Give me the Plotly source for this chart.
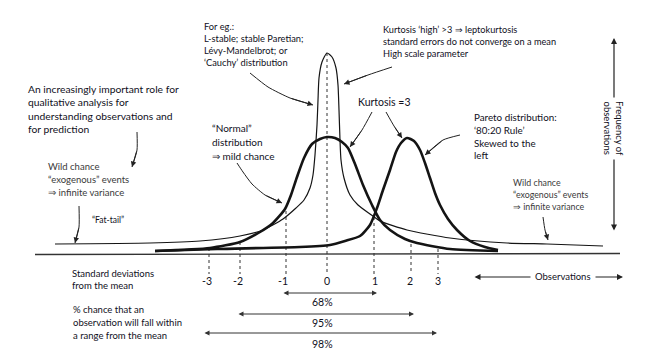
import plotly.graph_objects as go

# ---------------- data (diagram coordinates: x to the right, y downward) ----------------
# Leptokurtic ("Cauchy"-like) curve, thin line
lepto_x = [55, 150, 200, 240, 263, 283, 296, 304, 310, 313, 315, 317, 318, 319, 322, 327, 332, 336, 338, 339, 340,
           341, 344, 350, 358, 370, 380, 407, 450, 507, 547, 603]
lepto_y = [244, 243, 241, 236, 230, 219, 208, 200, 188, 175, 155, 125, 100, 78, 62, 53, 57, 68, 85, 110, 140,
           160, 178, 195, 205, 214, 221, 230, 238, 243, 244, 246]
# "Normal" curve, thick line
normal_x = [155, 210, 240, 260, 273, 285, 291, 297, 304, 312, 320, 327, 335, 342, 348, 355, 363, 372, 380, 390, 405,
            417, 450, 498]
normal_y = [251, 248, 242, 232, 223, 209, 195, 177, 158, 144, 139, 137, 138, 142, 148, 164, 185, 205, 220, 230, 239,
            243, 249, 251]
# Pareto (skewed) curve, thick line
pareto_x = [155, 217, 300, 330, 345, 360, 370, 377, 383, 390, 396, 401, 407, 414, 420, 425, 430, 435, 440, 448, 457,
            470, 485, 498]
pareto_y = [251, 249, 247, 245, 241, 236, 225, 208, 190, 170, 152, 143, 138, 141, 150, 163, 178, 193, 205, 219, 230,
            241, 247, 250]

# axis of standard deviations
sd_labels = ["-3", "-2", "-1", "0", "1", "2", "3"]
sd_x = [209, 240, 286, 327, 374, 411, 438]
sd_top = [248, 242, 211, 53, 217, 244, 249]
sd_label_x = [207, 238, 283, 327, 375, 410, 438]

# percentage ranges
pct_labels = ["68%", "95%", "98%"]
pct_left = [282, 237, 203]
pct_right = [377, 414, 437]
pct_arrow_y = [293, 314, 333]
pct_label_y = [302, 323, 344]

# baseline
base_x = [35, 620]
base_y = [254.5, 253.5]

# curved pointer paths (tail ... head)
ptr_cauchy = ([250, 268, 290, 313], [73, 87, 98, 105])
ptr_lepto = ([392, 368, 344], [67, 75, 84])
ptr_k3a = ([372, 362, 350], [112, 130, 147])
ptr_k3b = ([386, 394, 402], [112, 126, 138])
ptr_pareto = ([460, 443, 425], [135, 140, 155])
ptr_normal = ([237, 243, 252, 265, 282], [163, 172, 184, 195, 203])
ptr_role = ([137, 137, 132], [132, 150, 167])
ptr_wild_l = ([79, 79, 75], [206, 227, 243])
ptr_wild_r = ([543, 545, 548], [217, 230, 240])

# text blocks
txt_cauchy = ["For eg.:", "L-stable; stable Paretian;", "Lévy-Mandelbrot; or", "‘Cauchy’ distribution"]
txt_lepto = ["Kurtosis ‘high’ >3 ⇒ leptokurtosis", "standard errors do not converge on a mean",
             "High scale parameter"]
txt_pareto = ["Pareto distribution:", "‘80:20 Rule’", "Skewed to the", "left"]
txt_normal = ["“Normal”", "distribution", "⇒ mild chance"]
txt_role = ["An increasingly important role for", "qualitative analysis for", "understanding observations and",
            "for prediction"]
txt_wild = ["Wild chance", "“exogenous” events", "⇒ infinite variance"]
txt_sd = ["Standard deviations", "from the mean"]
txt_pct = ["% chance that an", "observation will fall within", "a range from the mean"]

INK = "#141414"
TXT = "#10101c"
GREY = "#3a3a3a"
FONT = "Lato"

fig = go.Figure()


def line(xs, ys, w, dash=None, color=INK, shape="spline"):
    fig.add_trace(go.Scatter(x=xs, y=ys, mode="lines", hoverinfo="skip", showlegend=False,
                             line=dict(color=color, width=w, shape=shape, smoothing=0.6,
                                       dash=dash if dash else "solid")))


# baseline
line(base_x, base_y, 1.4, color="#333333", shape="linear")
# dotted verticals
for x, t in zip(sd_x, sd_top):
    line([x, x], [t, 274], 1, dash="dot", color="#333333", shape="linear")
# curves
line(lepto_x, lepto_y, 1.2)
line(normal_x, normal_y, 2.6)
line(pareto_x, pareto_y, 2.6)


def pointer(path):
    xs, ys = path
    line(xs, ys, 1, color="#222222")
    fig.add_annotation(x=xs[-1], y=ys[-1], ax=xs[-2], ay=ys[-2], axref="x", ayref="y", xref="x", yref="y",
                       text="", showarrow=True, arrowhead=2, arrowsize=1.1, arrowwidth=1, arrowcolor="#222222",
                       standoff=0)


for p in [ptr_cauchy, ptr_lepto, ptr_k3a, ptr_k3b, ptr_pareto, ptr_normal, ptr_role, ptr_wild_l, ptr_wild_r]:
    pointer(p)


def block(lines, x, y0, dy, size, color=TXT):
    for i, s in enumerate(lines):
        fig.add_annotation(x=x, y=y0 + i * dy, text=s, showarrow=False, xanchor="left", yanchor="middle",
                           font=dict(family=FONT, size=size, color=color), borderpad=0)


block(txt_cauchy, 203, 26, 12.2, 9.3)
block(txt_lepto, 382, 29, 12, 9.2)
block(["Kurtosis =3"], 357, 102, 12, 10.5)
block(txt_pareto, 473, 117, 12.8, 9.8)
block(txt_normal, 211, 128, 14, 10)
block(txt_role, 27, 89, 13.4, 10.3)
block(txt_wild, 47, 166, 13.3, 9.5, GREY)
block(["“Fat-tail”"], 91, 220, 12, 8.5)
block(txt_wild, 512, 182, 12, 8.8, GREY)
block(txt_sd, 71, 273, 12, 9.5)
block(txt_pct, 72, 309, 13, 9.5)

# tick labels
for s, x in zip(sd_labels, sd_label_x):
    fig.add_annotation(x=x, y=281, text=s, showarrow=False, xanchor="center", yanchor="middle",
                       font=dict(family=FONT, size=10.5, color=TXT))

# percentage arrows and labels
for s, l, r, ay, ly in zip(pct_labels, pct_left, pct_right, pct_arrow_y, pct_label_y):
    fig.add_annotation(x=r, y=ay, ax=l, ay=ay, axref="x", ayref="y", xref="x", yref="y", text="",
                       showarrow=True, arrowhead=2, arrowside="end+start", arrowsize=1, arrowwidth=1,
                       arrowcolor="#333333", standoff=0, startstandoff=0)
    fig.add_annotation(x=322, y=ly, text=s, showarrow=False, xanchor="center", yanchor="middle",
                       font=dict(family=FONT, size=10.5, color=TXT))

# frequency axis
fig.add_annotation(x=614, y=38, ax=614, ay=232, axref="x", ayref="y", xref="x", yref="y", text="",
                   showarrow=True, arrowhead=2, arrowside="end+start", arrowsize=1, arrowwidth=1.2,
                   arrowcolor="#222222", standoff=0, startstandoff=0)
fig.add_annotation(x=614, y=128, text="Frequency of<br>observations", showarrow=False, textangle=90,
                   bgcolor="white", xanchor="center", yanchor="middle", borderpad=3,
                   font=dict(family=FONT, size=9.5, color=TXT))

# observations axis
fig.add_annotation(x=623, y=277, ax=473, ay=277, axref="x", ayref="y", xref="x", yref="y", text="",
                   showarrow=True, arrowhead=2, arrowside="end+start", arrowsize=1, arrowwidth=1.2,
                   arrowcolor="#222222", standoff=0, startstandoff=0)
fig.add_annotation(x=563, y=276, text="Observations", showarrow=False, bgcolor="white",
                   xanchor="center", yanchor="middle", borderpad=4,
                   font=dict(family=FONT, size=9.5, color=TXT))

fig.update_layout(width=652, height=359, margin=dict(l=0, r=0, t=0, b=0), autosize=False,
                  paper_bgcolor="white", plot_bgcolor="white",
                  xaxis=dict(range=[0, 652], visible=False, fixedrange=True),
                  yaxis=dict(range=[359, 0], visible=False, fixedrange=True))

fig.write_html("out.html", config={"displayModeBar": False},
               post_script="document.body.style.margin='0';document.body.style.padding='0';")
